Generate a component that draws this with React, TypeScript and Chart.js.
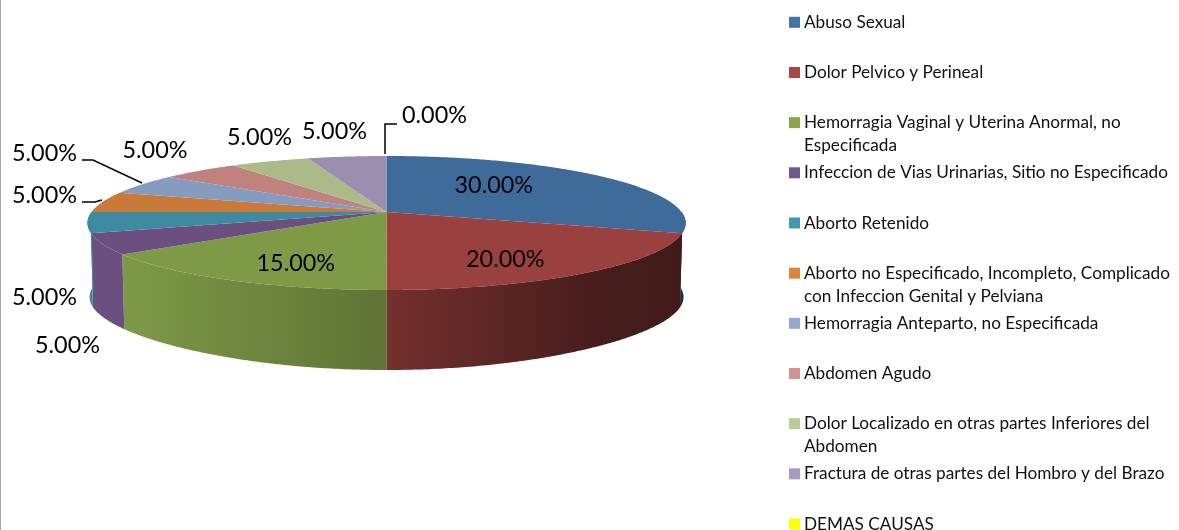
import React, { useEffect, useRef } from "react";
import { Chart, registerables } from "chart.js";

Chart.register(...registerables);

const categories = [
  ["Abuso Sexual"],
  ["Dolor Pelvico y Perineal"],
  ["Hemorragia Vaginal y Uterina Anormal, no", "Especificada"],
  ["Infeccion de Vias Urinarias, Sitio no Especificado"],
  ["Aborto Retenido"],
  ["Aborto no Especificado, Incompleto, Complicado", "con Infeccion Genital y Pelviana"],
  ["Hemorragia Anteparto, no Especificada"],
  ["Abdomen Agudo"],
  ["Dolor Localizado en otras partes Inferiores del", "Abdomen"],
  ["Fractura de otras partes del Hombro y del Brazo"],
  ["DEMAS CAUSAS"],
];
const shareValues = [30, 20, 15, 5, 5, 5, 5, 5, 5, 5, 0];
const sliceColors = ["#3f6b9b", "#9a403e", "#7e9a47", "#6a4f80", "#3e8aa0", "#c97a38", "#859cc0", "#c0827f", "#aabb89", "#9b8eae", "#e6e600"];
const legendColors = ["#4572a7", "#aa4643", "#89a54e", "#71588f", "#4198af", "#db843d", "#93a9cf", "#d19392", "#b9cd96", "#a99bbd", "#ffff00"];
// left / vertical-middle anchor of each percentage label
const labelAnchors = [[454.5, 185.5], [466, 259.5], [256.5, 263.5], [35, 345.5], [12, 297.5], [12, 195.5], [12, 153.5], [122.5, 150.5], [227, 137.5], [302, 131.5], [402, 115.5]];
const leaderLines = [
  [[82, 160], [93, 160], [142, 183]],
  [[82, 202], [95, 202], [102, 200]],
  [[385, 154], [385, 124], [397, 124]],
];

const CX = 386.5, CY = 212, RX = 295, RY = 65.2, K = 0.164;
const LABEL_FONT = "23.4px Lato";
const LEGEND_FONT = "17.2px Lato";

function project(theta: number): [number, number] {
  const u = Math.sin(theta), v = -Math.cos(theta);
  const d = 1 - K * v;
  return [CX + (RX * u) / d, CY + (RY * v) / d];
}
function projectBottom(theta: number): [number, number] {
  const [x, y] = project(theta);
  const v = -Math.cos(theta);
  return [CX + (x - CX) * 0.993, y + 74 + 6 * v * v * v * v];
}
function arcPoints(a: number, b: number, fn: (t: number) => [number, number]) {
  const n = Math.max(2, Math.ceil(Math.abs(b - a) / 0.01));
  const pts: [number, number][] = [];
  for (let i = 0; i <= n; i++) pts.push(fn(a + ((b - a) * i) / n));
  return pts;
}
function tracePath(ctx: CanvasRenderingContext2D, pts: [number, number][]) {
  pts.forEach(([x, y], i) => (i ? ctx.lineTo(x, y) : ctx.moveTo(x, y)));
}

const pie3d = {
  id: "pie3d",
  beforeDatasetDraw(chart: any) {
    const ctx: CanvasRenderingContext2D = chart.ctx;
    const arcs = chart.getDatasetMeta(0).data;
    const shade = ctx.createLinearGradient(120, 0, 686, 0);
    shade.addColorStop(0, "rgba(0,0,0,0)");
    shade.addColorStop(0.47, "rgba(0,0,0,0.25)");
    shade.addColorStop(0.85, "rgba(0,0,0,0.55)");
    shade.addColorStop(1, "rgba(0,0,0,0.58)");
    ctx.save();
    const lo = Math.PI / 2, hi = (3 * Math.PI) / 2;
    arcs.forEach((arc: any, i: number) => {
      const a = Math.max(arc.startAngle + Math.PI / 2, lo);
      const b = Math.min(arc.endAngle + Math.PI / 2, hi);
      if (b <= a) return;
      const pts = [...arcPoints(a, b, project), ...arcPoints(a, b, projectBottom).reverse()];
      ctx.beginPath();
      tracePath(ctx, pts);
      ctx.closePath();
      ctx.fillStyle = sliceColors[i];
      ctx.fill();
      ctx.fillStyle = shade;
      ctx.fill();
    });
    arcs.forEach((arc: any, i: number) => {
      const a = arc.startAngle + Math.PI / 2, b = arc.endAngle + Math.PI / 2;
      if (b - a <= 0) return;
      ctx.beginPath();
      tracePath(ctx, [[CX, CY], ...arcPoints(a, b, project)]);
      ctx.closePath();
      ctx.fillStyle = sliceColors[i];
      ctx.fill();
    });
    ctx.restore();
    return false;
  },
  afterDraw(chart: any) {
    const ctx: CanvasRenderingContext2D = chart.ctx;
    ctx.save();
    ctx.fillStyle = "#a6a6a6";
    ctx.fillRect(0, 0, 1, 530);

    ctx.strokeStyle = "#000";
    ctx.lineWidth = 1.5;
    leaderLines.forEach((line) => {
      ctx.beginPath();
      tracePath(ctx, line as [number, number][]);
      ctx.stroke();
    });

    ctx.fillStyle = "#000";
    ctx.textBaseline = "middle";
    ctx.textAlign = "left";
    ctx.font = LABEL_FONT;
    chart.data.datasets[0].data.forEach((v: number, i: number) => {
      ctx.fillText(`${v.toFixed(2)}%`, labelAnchors[i][0], labelAnchors[i][1]);
    });

    ctx.font = LEGEND_FONT;
    categories.forEach((lines, i) => {
      const y = 22.3 + 50.17 * i;
      ctx.fillStyle = legendColors[i];
      ctx.fillRect(789, y - 5.5, 11, 11);
      ctx.fillStyle = "#111";
      lines.forEach((text, j) => ctx.fillText(text, 804, y + 23 * j));
    });
    ctx.restore();
  },
};

export default function App() {
  const ref = useRef<HTMLCanvasElement>(null);
  useEffect(() => {
    const chart = new Chart(ref.current!, {
      type: "pie",
      data: {
        labels: categories.map((c) => c.join(" ")),
        datasets: [{ data: shareValues, backgroundColor: sliceColors, borderWidth: 0 }],
      },
      options: {
        animation: false,
        responsive: false,
        plugins: { legend: { display: false }, tooltip: { enabled: false } },
      },
      plugins: [pie3d],
    } as any);
    return () => chart.destroy();
  }, []);
  return (
    <div style={{ position: "absolute", left: 0, top: 0, width: 1179, height: 530, background: "#fff", overflow: "hidden" }}>
      <canvas ref={ref} width={1179} height={530} style={{ display: "block" }} />
    </div>
  );
}
